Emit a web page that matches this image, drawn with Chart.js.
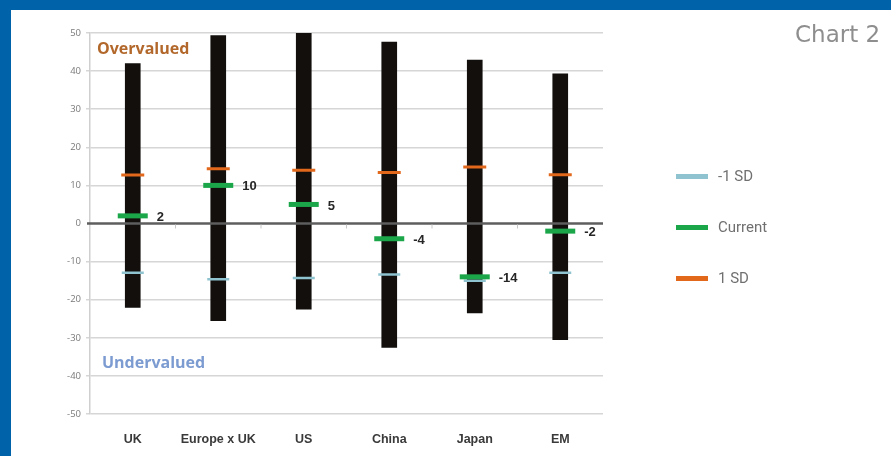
<!DOCTYPE html>
<html>
<head>
<meta charset="utf-8">
<script src="https://cdn.jsdelivr.net/npm/chart.js@4.4.1/dist/chart.umd.min.js"></script>
<style>
  html, body { margin: 0; padding: 0; background: #ffffff; }
  #wrap { position: relative; width: 891px; height: 456px; overflow: hidden; background: #ffffff; }
  #chart { position: absolute; left: 0; top: 0; }
  .frame { position: absolute; background: #0062a8; }
  .note { position: absolute; font-family: "Open Sans", sans-serif; font-weight: 700; font-size: 16px; white-space: nowrap; }
  #title { position: absolute; left: 795px; top: 21px; font-family: "DejaVu Sans", sans-serif; font-size: 23px; color: #8e8e8e; white-space: nowrap; }
  #legend { position: absolute; left: 676px; top: 0; font-family: Roboto, sans-serif; font-size: 15px; color: #707070; }
  .item { position: absolute; left: 0; white-space: nowrap; height: 20px; line-height: 20px; }
  .swatch { position: absolute; left: 0; top: 8px; width: 32px; height: 5px; }
  .item span { position: absolute; left: 42px; top: 0; }
</style>
</head>
<body>
<div id="wrap">
  <canvas id="chart" width="891" height="456"></canvas>
  <div class="frame" style="left:0;top:0;width:891px;height:10px;"></div>
  <div class="frame" style="left:0;top:0;width:11px;height:456px;"></div>
  <div id="title">Chart 2</div>
  <div class="note" style="left:97px;top:37px;color:#b3682b;">Overvalued</div>
  <div class="note" style="left:102px;top:351px;color:#7b9bd1;">Undervalued</div>
  <div id="legend"></div>
</div>
<script>
// Markets and their valuation ranges (% over/under fair value)
const categories = ["UK", "Europe x UK", "US", "China", "Japan", "EM"];
const rangeLow  = [-22, -25.5, -22.5, -32.5, -23.5, -30.5];
const rangeHigh = [42, 49.3, 50, 47.6, 42.9, 39.3];
const current   = [2, 10, 5, -4, -14, -2];
const plusOneSD = [12.7, 14.4, 14, 13.4, 14.8, 12.8];
const minusOneSD = [-12.9, -14.6, -14.3, -13.4, -15, -12.9];
const yTicks = { min: -50, max: 50, step: 10 };

const colMinus = "#8ec3cf";
const colCurrent = "#1ba64a";
const colPlus = "#e2691c";

const ranges = categories.map((c, i) => [rangeLow[i], rangeHigh[i]]);

function markerSet(label, data, color, radius, width, order) {
  return {
    type: "line", label, data, order,
    showLine: false,
    pointStyle: "line",
    pointRadius: radius, pointHoverRadius: radius,
    pointBorderWidth: width, pointHoverBorderWidth: width,
    borderColor: color, backgroundColor: color,
    pointBorderColor: color
  };
}

// Zero line over the bars, with small category ticks below it
const zeroLine = {
  id: "zeroLine",
  afterDatasetsDraw(chart) {
    const { ctx, chartArea, scales } = chart;
    const y = scales.y.getPixelForValue(0);
    ctx.save();
    ctx.strokeStyle = "#5e5e5e";
    ctx.lineWidth = 2.5;
    ctx.beginPath();
    ctx.moveTo(chartArea.left - 3, y);
    ctx.lineTo(chartArea.right, y);
    ctx.stroke();
    ctx.lineWidth = 1;
    ctx.strokeStyle = "#c8c8c8";
    for (let i = 1; i < categories.length; i++) {
      const x = (scales.x.getPixelForValue(i - 1) + scales.x.getPixelForValue(i)) / 2;
      ctx.beginPath();
      ctx.moveTo(x, y + 1);
      ctx.lineTo(x, y + 5);
      ctx.stroke();
    }
    ctx.restore();
  }
};

// Value labels beside the current-valuation markers
const currentLabels = {
  id: "currentLabels",
  afterDatasetsDraw(chart) {
    const { ctx } = chart;
    const idx = chart.data.datasets.findIndex(d => d.label === "Current");
    const meta = chart.getDatasetMeta(idx);
    ctx.save();
    ctx.font = "bold 13px 'Liberation Sans', Arial, sans-serif";
    ctx.fillStyle = "#262626";
    ctx.textAlign = "left";
    ctx.textBaseline = "middle";
    meta.data.forEach((pt, i) => {
      ctx.fillText(String(current[i]), pt.x + 24, pt.y + 1.5);
    });
    ctx.restore();
  }
};

const chart = new Chart(document.getElementById("chart"), {
  type: "bar",
  data: {
    labels: categories,
    datasets: [
      { type: "bar", label: "Range", data: ranges, backgroundColor: "#120f0d",
        borderWidth: 0, barThickness: 15, order: 10, borderSkipped: false },
      markerSet("-1 SD", minusOneSD, colMinus, 11, 2.5, 3),
      markerSet("1 SD", plusOneSD, colPlus, 11.5, 3, 2),
      markerSet("Current", current, colCurrent, 15, 5, 1)
    ]
  },
  options: {
    responsive: false,
    animation: false,
    events: [],
    layout: { padding: { left: 0, top: 33, right: 288, bottom: 0 } },
    plugins: { legend: { display: false }, tooltip: { enabled: false } },
    scales: {
      x: {
        offset: true,
        grid: { display: false },
        border: { display: false },
        ticks: {
          padding: 10,
          color: "#3a3a3a",
          font: { family: "'Liberation Sans', Arial, sans-serif", size: 12.5, weight: "bold" }
        },
        afterFit(scale) { scale.height = 42; }
      },
      y: {
        min: yTicks.min, max: yTicks.max,
        grid: {
          color: ctx => ctx.tick && ctx.tick.value === 0 ? "rgba(0,0,0,0)" : "#d6d6d6",
          lineWidth: 1.5,
          tickLength: 4
        },
        border: { display: true, color: "#cfcfcf", width: 1.5 },
        ticks: {
          stepSize: yTicks.step,
          padding: 5,
          color: "#7a7a7a",
          font: { family: "'Open Sans', sans-serif", size: 9.5 }
        },
        afterFit(scale) { scale.width = 90; }
      }
    }
  },
  plugins: [zeroLine, currentLabels]
});

// Legend on the right, built from the marker series
const legendEl = document.getElementById("legend");
const legendItems = [
  { label: "-1 SD", color: colMinus, top: 166 },
  { label: "Current", color: colCurrent, top: 217 },
  { label: "1 SD", color: colPlus, top: 268 }
];
legendItems.forEach(it => {
  const d = document.createElement("div");
  d.className = "item";
  d.style.top = it.top + "px";
  d.innerHTML = '<div class="swatch" style="background:' + it.color + '"></div><span>' + it.label + '</span>';
  legendEl.appendChild(d);
});
</script>
</body>
</html>
